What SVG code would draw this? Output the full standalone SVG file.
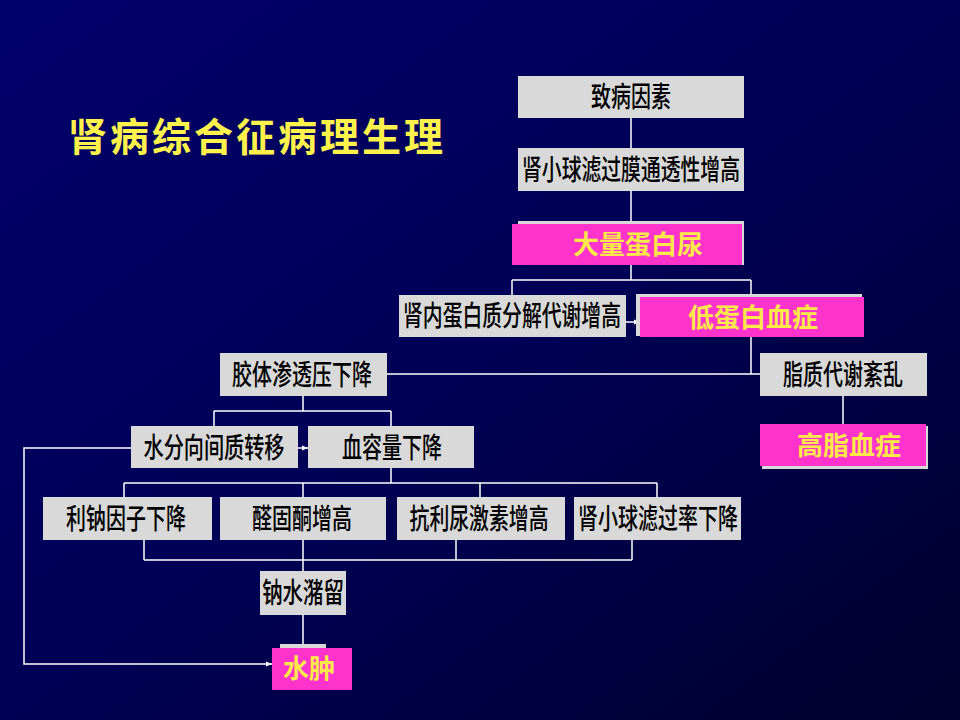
<svg xmlns="http://www.w3.org/2000/svg" width="960" height="720" viewBox="0 0 960 720">
<defs>
<linearGradient id="bg" x1="0" y1="0" x2="1" y2="1">
<stop offset="0" stop-color="#00006A"/>
<stop offset="0.5" stop-color="#000056"/>
<stop offset="1" stop-color="#00002C"/>
</linearGradient>
<marker id="ah" viewBox="0 0 6 6" refX="6" refY="3" markerWidth="6" markerHeight="6" markerUnits="userSpaceOnUse" orient="auto">
<path d="M0,0.5 L6,3 L0,5.5 z" fill="#FFFFFF"/>
</marker>
</defs>
<style>
.g{fill:#D9D9D9}
.m{fill:#FF33CC}
.bt{font-family:"Noto Sans CJK SC","Noto Sans CJK TC",sans-serif;font-size:28px;fill:#000000;text-anchor:middle;font-weight:500}
.yt{font-family:"Noto Sans CJK SC","Noto Sans CJK TC",sans-serif;font-size:26px;fill:#FFE94A;text-anchor:middle;font-weight:700}
.title{font-family:"Noto Sans CJK SC","Noto Sans CJK TC",sans-serif;font-size:39px;fill:#FFF24A;font-weight:700;letter-spacing:3px}
.c{stroke:#FFFFFF;stroke-width:1.5;fill:none}
</style>
<rect x="0" y="0" width="960" height="720" fill="url(#bg)"/>
<text class="title" x="68" y="151">肾病综合征病理生理</text>

<g id="connectors">
<path class="c" d="M631,118 V148"/>
<path class="c" d="M631,191 V221"/>
<path class="c" d="M631,265 V280 M512,280 H751 M512,280 V295 M751,280 V294"/>
<path class="c" d="M626,322 H640" marker-end="url(#ah)"/>
<path class="c" d="M751,337 V374 M387,374 H760"/>
<path class="c" d="M843,396 V424"/>
<path class="c" d="M303,396 V411 M214,411 H391 M214,411 V426 M391,411 V426"/>
<path class="c" d="M298,448 H308" marker-end="url(#ah)"/>
<path class="c" d="M131,448 H24 V664 H272" marker-end="url(#ah)"/>
<path class="c" d="M391,468 V483 M124,483 H657 M124,483 V497 M303,483 V497 M480,483 V497 M657,483 V497"/>
<path class="c" d="M144,540 V560 M456,540 V560 M632,540 V560 M144,560 H632 M303,540 V571"/>
<path class="c" d="M303,615 V644"/>
</g>

<g id="n1"><rect class="g" x="518" y="76" width="226" height="42"/><text class="bt" transform="translate(631,107) scale(0.714,1)">致病因素</text></g>
<g id="n2"><rect class="g" x="518" y="148" width="226" height="43"/><text class="bt" transform="translate(631,180) scale(0.708,1)">肾小球滤过膜通透性增高</text></g>
<g id="n3"><rect class="g" x="518" y="221" width="226" height="44"/><rect class="m" x="512" y="224" width="230" height="41"/><text class="yt" x="638" y="254">大量蛋白尿</text></g>
<g id="n4"><rect class="g" x="399" y="295" width="227" height="42"/><text class="bt" transform="translate(512,326) scale(0.708,1)">肾内蛋白质分解代谢增高</text></g>
<g id="n5"><rect class="g" x="636" y="294" width="226" height="42"/><rect class="m" x="640" y="297" width="224" height="40"/><text class="yt" x="753" y="327">低蛋白血症</text></g>
<g id="n6"><rect class="g" x="220" y="353" width="167" height="43"/><text class="bt" transform="translate(302,385) scale(0.714,1)">胶体渗透压下降</text></g>
<g id="n7"><rect class="g" x="760" y="353" width="167" height="43"/><text class="bt" transform="translate(843,385) scale(0.714,1)">脂质代谢紊乱</text></g>
<g id="n8"><rect class="g" x="762" y="426" width="166" height="43"/><rect class="m" x="760" y="424" width="166" height="42"/><text class="yt" x="849" y="455">高脂血症</text></g>
<g id="n9"><rect class="g" x="131" y="426" width="167" height="42"/><text class="bt" transform="translate(214,458) scale(0.72,1)">水分向间质转移</text></g>
<g id="n10"><rect class="g" x="308" y="426" width="166" height="42"/><text class="bt" transform="translate(392,458) scale(0.714,1)">血容量下降</text></g>
<g id="n11"><rect class="g" x="43" y="497" width="169" height="43"/><text class="bt" transform="translate(126,529) scale(0.714,1)">利钠因子下降</text></g>
<g id="n12"><rect class="g" x="220" y="497" width="166" height="43"/><text class="bt" transform="translate(302,529) scale(0.714,1)">醛固酮增高</text></g>
<g id="n13"><rect class="g" x="397" y="497" width="168" height="43"/><text class="bt" transform="translate(479,529) scale(0.709,1)">抗利尿激素增高</text></g>
<g id="n14"><rect class="g" x="574" y="497" width="167" height="43"/><text class="bt" transform="translate(658,529) scale(0.714,1)">肾小球滤过率下降</text></g>
<g id="n15"><rect class="g" x="260" y="571" width="86" height="44"/><text class="bt" transform="translate(303,603) scale(0.73,1)">钠水潴留</text></g>
<g id="n16"><rect class="g" x="280" y="644" width="46" height="6"/><rect class="m" x="272" y="648" width="80" height="42"/><text class="yt" x="309" y="678">水肿</text></g>
</svg>
